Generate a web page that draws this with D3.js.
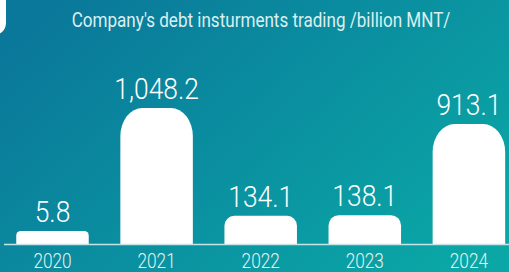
<!DOCTYPE html>
<html>
<head>
<meta charset="utf-8">
<script src="https://cdn.jsdelivr.net/npm/d3@7"></script>
<style>
  html, body { margin: 0; padding: 0; overflow: hidden; }
  svg { display: block; }
  .lbl { font-family: Roboto, "Liberation Sans", sans-serif; font-weight: 300; }
</style>
</head>
<body>
<svg id="chart" width="509" height="272"></svg>
<script>
// values
let years = ["2020", "2021", "2022", "2023", "2024"];
let values = [5.8, 1048.2, 134.1, 138.1, 913.1];
let title = "Company's debt insturments trading /billion MNT/";

let svg = d3.select("#chart");
let W = 509, H = 272;
let baseline = 244;

// background gradient
let defs = svg.append("defs");
let grad = defs.append("linearGradient")
    .attr("id", "bg")
    .attr("x1", "0%").attr("y1", "20%")
    .attr("x2", "100%").attr("y2", "80%");
grad.append("stop").attr("offset", "0%").attr("stop-color", "#0a789a");
grad.append("stop").attr("offset", "100%").attr("stop-color", "#0aa7a6");

svg.append("rect")
    .attr("width", W).attr("height", H)
    .attr("fill", "url(#bg)");

// the white edge of something at top left
svg.append("rect")
    .attr("x", -40).attr("y", -20)
    .attr("width", 46).attr("height", 55)
    .attr("rx", 12)
    .attr("fill", "#fff");

// title
svg.append("text")
    .attr("class", "lbl")
    .attr("transform", "translate(261,27) scale(0.875,1)")
    .attr("text-anchor", "middle")
    .style("font-size", "19.5px")
    .style("font-weight", 400)
    .attr("fill", "#dcefef")
    .text(title);

// scales
let x = d3.scaleBand()
    .domain(years)
    .range([0.45, 520.95])
    .paddingInner(0.3035)
    .paddingOuter(0.15175);

let y = d3.scaleLinear()
    .domain([-105, 1100])
    .range([baseline, 102]);

let fmt = d3.format(",.1f");

function topRounded(x0, y0, w, h) {
    let rx = Math.min(h * 0.35, 22);
    let ry = Math.min(h * 0.35, 28);
    return "M" + x0 + "," + (y0 + h) +
        "V" + (y0 + ry) +
        "A" + rx + "," + ry + " 0 0 1 " + (x0 + rx) + "," + y0 +
        "H" + (x0 + w - rx) +
        "A" + rx + "," + ry + " 0 0 1 " + (x0 + w) + "," + (y0 + ry) +
        "V" + (y0 + h) + "Z";
}

let data = years.map((d, i) => ({ year: d, value: values[i] }));

// bars
svg.selectAll(".bar")
    .data(data)
    .enter().append("path")
    .attr("class", "bar")
    .attr("fill", "#fff")
    .attr("d", d => topRounded(x(d.year), y(d.value), x.bandwidth(), baseline - y(d.value)));

// base line
svg.append("line")
    .attr("x1", 4).attr("x2", W)
    .attr("y1", baseline + 0.5).attr("y2", baseline + 0.5)
    .attr("stroke", "#c6e3e8")
    .attr("stroke-width", 1.5);

// value labels
svg.selectAll(".val")
    .data(data)
    .enter().append("text")
    .attr("class", "lbl val")
    .attr("transform", d => "translate(" + (x(d.year) + x.bandwidth() / 2) + "," + (y(d.value) - 9) + ") scale(0.88,1)")
    .attr("text-anchor", "middle")
    .style("font-size", "30px")
    .attr("fill", "#fff")
    .text(d => fmt(d.value));

// year labels
svg.selectAll(".year")
    .data(data)
    .enter().append("text")
    .attr("class", "lbl year")
    .attr("transform", d => "translate(" + (x(d.year) + x.bandwidth() / 2) + ",268) scale(0.82,1)")
    .attr("text-anchor", "middle")
    .style("font-size", "21px")
    .attr("fill", "#e6f3f3")
    .text(d => d.year);
</script>
</body>
</html>
